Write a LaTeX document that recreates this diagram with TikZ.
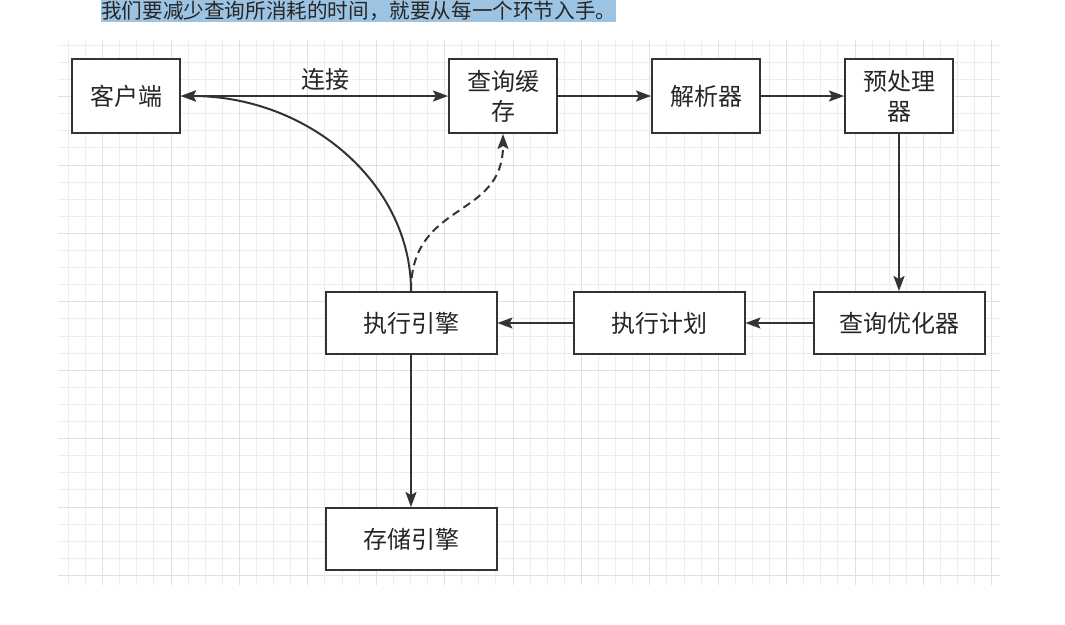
\documentclass[tikz,border=0pt]{standalone}
\usepackage{fontspec}
\setmainfont{Noto Sans CJK SC}
\usepackage{xcolor}
\usetikzlibrary{arrows.meta, positioning}

\definecolor{inkgray}{HTML}{333333}
\definecolor{gridminor}{HTML}{EDEDED}
\definecolor{gridmajor}{HTML}{E0E0E0}
\definecolor{hilite}{HTML}{9DC3E2}

\begin{document}
\begin{tikzpicture}[
      x=1pt, y=-1pt,
      >={Stealth[length=15pt, width=11pt, inset=3pt]},
      box/.style={draw=inkgray, line width=2pt, fill=white, align=center,
                  text=black!85, font=\fontsize{24}{30}\selectfont, inner sep=2pt,
                  minimum height=74pt, minimum width=108pt},
      wbox/.style={box, minimum height=62pt, minimum width=171pt},
      arr/.style={->, line width=2pt, draw=inkgray}
    ]
    \useasboundingbox (0,0) rectangle (1065,624);

    % background grid
    \foreach \gx in {0,...,54}
      \draw[gridminor, line width=1pt] (68.4+17.1*\gx,40) -- (68.4+17.1*\gx,585);
    \foreach \gy in {0,...,31}
      \draw[gridminor, line width=1pt] (58,45.3+17.1*\gy) -- (1000,45.3+17.1*\gy);
    \foreach \gx in {2,6,...,54}
      \draw[gridmajor, line width=1pt] (68.4+17.1*\gx,40) -- (68.4+17.1*\gx,585);
    \foreach \gy in {3,7,...,31}
      \draw[gridmajor, line width=1pt] (58,45.3+17.1*\gy) -- (1000,45.3+17.1*\gy);

    % highlighted note at the top
    \node[anchor=base west, inner sep=0pt, fill=hilite, text=black!85,
          text height=20pt, text depth=3pt, font=\fontsize{20.6}{24}\selectfont]
          (note) at (101,18.5) {我们要减少查询所消耗的时间，就要从每一个环节入手。};

    \node[box] (client) at (126,96) {客户端};
    \node[box, right=267pt of client] (cache) {查询缓\\存};
    \node[box, right=93pt of cache] (parser) {解析器};
    \node[box, right=83pt of parser] (prep) {预处理\\器};
    \node[wbox, below=157pt of prep] (opt) {查询优化器};
    \node[wbox, left=67pt of opt] (plan) {执行计划};
    \node[wbox, left=75pt of plan] (exec) {执行引擎};
    \node[wbox, below=152pt of exec] (store) {存储引擎};

    \draw[arr, <->] (client) -- node[above=1pt, pos=0.54, text=black!85, font=\fontsize{24}{30}\selectfont] (conn) {连接} (cache);
    \draw[arr] (cache) -- (parser);
    \draw[arr] (parser) -- (prep);
    \draw[arr] (prep) -- (opt);
    \draw[arr] (opt) -- (plan);
    \draw[arr] (plan) -- (exec);
    \draw[arr] (exec) -- (store);
    \draw[arr] (exec.north) .. controls +(0,-108) and +(127,0) .. (client.east);
    \draw[arr, dash pattern=on 8pt off 5pt] (exec.north) .. controls +(0,-91) and +(0,86) .. (cache.south);
\end{tikzpicture}
\end{document}
